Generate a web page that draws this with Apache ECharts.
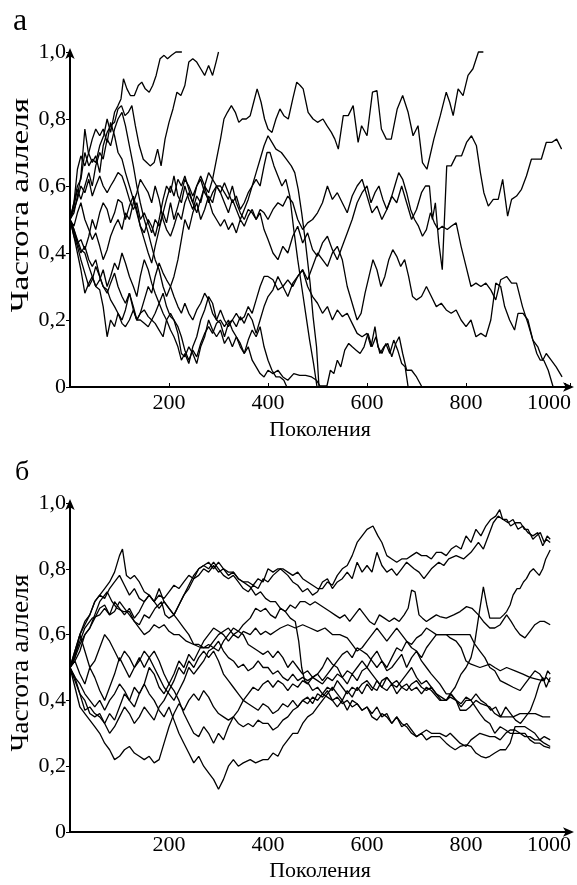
<!DOCTYPE html>
<html lang="ru">
<head>
  <meta charset="utf-8">
  <title>Частота аллеля</title>
  <script src="https://cdn.jsdelivr.net/npm/echarts@6/dist/echarts.min.js"></script>
  <style>
    * { margin: 0; padding: 0; }
    html, body { background: #fff; }
    #chart { width: 577px; height: 885px; }
  </style>
</head>
<body>
  <div id="chart"></div>
  <script>
    // tick labels
    var xTicks = [200, 400, 600, 800, 1000];
    var yTicks = ['0', '0,2', '0,4', '0,6', '0,8', '1,0'];
    var panelNames = ['а', 'б'];

    // panel а: [generation, allele frequency]
    var a1 = [[0,.5],[8,.55],[15,.6],[22,.62],[30,.7],[38,.66],[45,.68],[52,.67],[60,.72],[68,.75],[75,.8],[82,.76],[90,.82],[97,.84],[103,.86],[108,.92],[115,.89],[122,.87],[130,.87],[138,.9],[145,.91],[152,.89],[160,.88],[167,.9],[174,.93],[182,.98],[190,.99],[197,.98],[205,.99],[214,1],[226,1]];
    var a2 = [[0,.5],[8,.52],[15,.57],[22,.63],[30,.77],[37,.7],[45,.67],[52,.69],[60,.64],[67,.72],[75,.76],[82,.78],[90,.79],[97,.83],[104,.84],[111,.81],[118,.82],[125,.84],[132,.78],[140,.72],[148,.68],[155,.67],[162,.66],[170,.67],[177,.71],[184,.66],[192,.74],[200,.79],[208,.83],[216,.88],[224,.87],[232,.9],[240,.97],[248,.98],[256,.97],[264,.95],[272,.93],[280,.96],[288,.93],[295,.97],[300,1]];
    var a3 = [[0,.5],[8,.47],[15,.43],[22,.44],[30,.41],[38,.45],[45,.5],[52,.47],[60,.52],[67,.55],[75,.53],[82,.49],[90,.52],[97,.56],[105,.55],[112,.5],[120,.54],[128,.57],[135,.53],[142,.48],[150,.46],[158,.5],[165,.48],[172,.45],[180,.5],[188,.56],[195,.6],[203,.58],[210,.63],[218,.57],[225,.55],[232,.6],[240,.56],[248,.53],[256,.57],[264,.55],[272,.6],[280,.58],[288,.62],[296,.68],[304,.74],[311,.8],[318,.82],[326,.84],[334,.82],[341,.79],[348,.8],[356,.8],[364,.81],[371,.85],[378,.89],[386,.85],[393,.8],[400,.77],[408,.76],[416,.8],[424,.83],[432,.81],[441,.8],[450,.86],[458,.91],[465,.9],[471,.89],[481,.82],[491,.8],[500,.79],[511,.8],[519,.78],[528,.76],[535,.74],[542,.71],[552,.81],[562,.81],[572,.84],[582,.73],[589,.78],[600,.75],[611,.88],[620,.885],[629,.77],[639,.74],[649,.74],[661,.83],[672,.87],[683,.82],[693,.75],[703,.78],[712,.67],[721,.65],[735,.74],[748,.81],[760,.88],[767,.85],[774,.81],[784,.89],[794,.87],[804,.93],[814,.95],[825,1],[835,1]];
    var a4 = [[0,.5],[8,.53],[15,.56],[22,.6],[30,.58],[38,.62],[45,.57],[52,.6],[60,.63],[67,.6],[75,.58],[82,.6],[90,.62],[97,.64],[105,.63],[112,.6],[120,.56],[128,.53],[135,.55],[142,.5],[150,.52],[158,.49],[165,.46],[172,.5],[180,.48],[188,.52],[195,.49],[203,.55],[210,.5],[218,.54],[225,.58],[232,.62],[240,.6],[248,.57],[256,.6],[264,.63],[272,.6],[280,.55],[288,.58],[296,.6],[304,.6],[312,.58],[320,.56],[328,.6],[336,.55],[344,.52],[352,.5],[360,.53],[368,.52],[376,.5],[384,.53],[392,.52],[400,.5],[410,.53],[420,.55],[430,.54],[440,.57],[450,.55],[460,.5],[470,.47],[480,.49],[490,.5],[500,.52],[510,.55],[520,.6],[530,.56],[540,.58],[550,.55],[560,.52],[570,.57],[580,.6],[590,.62],[600,.57],[610,.52],[620,.54],[630,.5],[640,.53],[650,.57],[660,.55],[670,.6],[680,.55],[690,.5],[700,.53],[710,.58],[718,.6],[726,.6],[732,.5],[738,.55],[745,.43],[752,.35],[761,.66],[770,.66],[780,.69],[791,.69],[801,.73],[811,.75],[821,.72],[829,.64],[836,.58],[845,.54],[855,.56],[865,.56],[874,.62],[884,.51],[892,.56],[902,.57],[912,.59],[922,.63],[932,.68],[942,.68],[952,.68],[962,.73],[973,.73],[983,.74],[993,.71]];
    var a5 = [[0,.5],[8,.48],[15,.52],[22,.55],[30,.5],[38,.47],[45,.44],[52,.46],[60,.42],[67,.38],[75,.41],[82,.45],[90,.48],[97,.5],[105,.47],[112,.52],[120,.5],[128,.55],[135,.58],[142,.62],[150,.6],[158,.58],[165,.55],[172,.6],[180,.56],[188,.5],[195,.47],[203,.45],[210,.48],[218,.52],[225,.5],[232,.55],[240,.58],[248,.55],[256,.6],[264,.62],[272,.58],[280,.56],[288,.52],[296,.5],[304,.48],[312,.5],[320,.47],[328,.49],[336,.46],[344,.5],[352,.48],[360,.51],[368,.53],[376,.5],[384,.52],[392,.47],[400,.44],[410,.4],[420,.38],[430,.42],[440,.4],[450,.45],[460,.48],[470,.43],[480,.46],[490,.41],[500,.39],[510,.43],[520,.45],[530,.41],[540,.38],[550,.42],[560,.46],[570,.5],[580,.55],[590,.58],[600,.6],[608,.55],[616,.58],[624,.6],[632,.56],[640,.53],[648,.56],[656,.6],[664,.64],[672,.62],[680,.58],[688,.53],[696,.5],[704,.48],[712,.45],[720,.47],[728,.52],[736,.49],[744,.47],[752,.48],[762,.47],[770,.48],[780,.49],[790,.42],[800,.36],[810,.3],[820,.31],[830,.3],[840,.31],[850,.29],[860,.26],[870,.32],[882,.33],[892,.31],[902,.31],[914,.24],[925,.19],[935,.14],[943,.1],[950,.08],[957,.08],[966,.05],[976,0]];
    var a6 = [[0,.5],[8,.45],[15,.42],[22,.38],[30,.34],[38,.3],[45,.32],[52,.36],[60,.33],[67,.3],[75,.28],[82,.31],[90,.34],[97,.3],[105,.27],[112,.25],[120,.28],[128,.23],[135,.2],[142,.22],[150,.26],[158,.3],[165,.28],[172,.33],[180,.37],[188,.34],[195,.32],[203,.3],[210,.27],[218,.24],[225,.22],[232,.25],[240,.22],[248,.2],[256,.23],[264,.25],[272,.28],[280,.26],[288,.22],[296,.2],[304,.23],[312,.2],[320,.18],[328,.2],[336,.22],[344,.2],[352,.21],[360,.24],[368,.22],[376,.26],[384,.3],[392,.33],[400,.33],[410,.32],[420,.29],[430,.3],[440,.32],[450,.3],[460,.33],[470,.35],[480,.32],[490,.36],[500,.4],[510,.38],[520,.36],[530,.4],[540,.42],[550,.38],[560,.3],[570,.25],[580,.2],[588,.22],[596,.28],[604,.33],[612,.38],[620,.35],[628,.3],[636,.33],[644,.38],[652,.41],[660,.39],[668,.36],[676,.38],[684,.33],[692,.27],[700,.26],[710,.27],[720,.3],[730,.27],[740,.24],[750,.25],[760,.23],[770,.22],[780,.23],[790,.2],[800,.18],[810,.2],[820,.15],[830,.16],[840,.15],[850,.2],[860,.31],[870,.3],[878,.24],[888,.2],[898,.17],[905,.22],[915,.22],[925,.2],[935,.14],[945,.12],[955,.08],[962,.1],[972,.08],[982,.06],[994,.03]];
    var a7 = [[0,.5],[8,.55],[15,.65],[22,.69],[30,.66],[38,.7],[45,.74],[52,.77],[60,.75],[67,.77],[75,.73],[82,.79],[90,.75],[97,.7],[105,.68],[112,.64],[120,.6],[128,.56],[135,.52],[142,.48],[150,.44],[158,.4],[165,.37],[172,.42],[180,.47],[188,.52],[195,.56],[203,.6],[210,.57],[218,.62],[225,.6],[232,.63],[240,.59],[248,.55],[256,.52],[264,.56],[272,.6],[280,.64],[288,.62],[296,.6],[304,.58],[312,.61],[320,.58],[328,.55],[336,.57],[344,.53],[352,.55],[360,.58],[368,.6],[376,.64],[384,.68],[392,.72],[400,.75],[408,.73],[416,.71],[427,.7],[437,.68],[447,.66],[454,.64],[461,.59],[468,.52],[475,.44],[485,.31],[491,.21],[498,.12],[503,0]];
    var a8 = [[0,.5],[8,.54],[15,.59],[22,.56],[30,.6],[38,.64],[45,.6],[52,.66],[60,.7],[67,.68],[75,.74],[82,.72],[90,.77],[97,.8],[105,.82],[112,.78],[120,.72],[128,.66],[135,.6],[142,.55],[150,.5],[158,.46],[165,.42],[172,.38],[180,.35],[188,.3],[195,.27],[203,.3],[210,.33],[218,.38],[225,.44],[232,.5],[240,.47],[248,.52],[256,.55],[264,.5],[272,.53],[280,.57],[288,.55],[296,.6],[304,.58],[312,.55],[320,.52],[328,.56],[336,.53],[344,.5],[352,.53],[360,.56],[368,.6],[376,.62],[384,.6],[392,.66],[398,.7],[404,.7],[412,.66],[420,.63],[428,.6],[436,.62],[444,.57],[452,.47],[460,.38],[468,.3],[476,.22],[484,.14],[492,.07],[499,0]];
    var a9 = [[0,.5],[8,.45],[15,.4],[22,.35],[30,.28],[38,.31],[45,.33],[52,.3],[60,.29],[67,.24],[75,.15],[82,.2],[90,.18],[97,.22],[105,.2],[112,.23],[120,.28],[128,.24],[135,.2],[142,.2],[150,.19],[158,.18],[165,.2],[172,.19],[180,.17],[188,.15],[195,.2],[203,.22],[210,.2],[218,.16],[225,.1],[232,.09],[240,.12],[248,.1],[256,.07],[264,.12],[272,.15],[280,.2],[288,.17],[296,.15],[304,.17],[312,.13],[320,.15],[328,.12],[336,.15],[344,.13],[352,.1],[360,.14],[368,.17],[376,.15],[384,.18],[392,.12],[400,.08],[408,.05],[416,.03],[424,.03],[432,.02],[438,0]];
    var a10 = [[0,.5],[8,.46],[15,.43],[22,.4],[30,.42],[38,.38],[45,.36],[52,.38],[60,.33],[67,.3],[75,.29],[82,.26],[90,.24],[97,.22],[105,.19],[112,.18],[120,.2],[128,.23],[135,.2],[142,.22],[150,.23],[158,.21],[165,.2],[172,.22],[180,.25],[188,.28],[195,.24],[203,.21],[210,.2],[218,.18],[225,.15],[232,.11],[240,.08],[248,.11],[256,.09],[264,.13],[272,.16],[280,.18],[288,.16],[296,.19],[304,.2],[312,.18],[320,.2],[328,.17],[336,.15],[344,.12],[352,.1],[360,.12],[368,.08],[376,.06],[384,.04],[392,.03],[400,.05],[410,.04],[420,.05],[430,.03],[440,.02],[452,.04],[464,.035],[476,.035],[488,.03],[498,.02],[505,.003],[519,.003],[526,.05],[533,.04],[540,.08],[547,.06],[555,.11],[563,.13],[570,.12],[578,.11],[586,.1],[594,.12],[602,.16],[610,.12],[618,.15],[626,.1],[634,.12],[642,.13],[650,.09],[658,.13],[665,.15],[672,.1],[680,.05],[690,.05],[700,.03],[711,0]];
    var a11 = [[0,.5],[8,.47],[15,.44],[22,.41],[30,.4],[38,.36],[45,.33],[52,.3],[60,.32],[67,.35],[75,.3],[82,.33],[90,.37],[97,.35],[105,.4],[112,.37],[120,.33],[128,.3],[135,.27],[142,.33],[150,.38],[158,.35],[165,.31],[172,.28],[180,.25],[188,.22],[195,.2],[203,.17],[210,.15],[218,.12],[225,.08],[232,.1],[240,.07],[248,.12],[256,.15],[264,.2],[272,.23],[280,.27],[288,.25],[296,.2],[304,.19],[312,.15],[320,.19],[328,.2],[336,.18],[344,.21],[352,.19],[360,.22],[368,.2],[376,.16],[384,.2],[392,.24],[400,.27],[410,.29],[420,.33],[430,.3],[440,.27],[450,.31],[460,.33],[470,.35],[480,.3],[490,.27],[500,.25],[510,.22],[520,.24],[530,.2],[540,.23],[550,.21],[560,.22],[570,.19],[580,.16],[590,.15],[600,.16],[608,.12],[616,.18],[622,.12],[630,.1],[638,.13],[646,.1],[654,.14],[662,.11],[670,.07],[677,.06],[683,0]];

    // panel б
    var b1 = [[0,.5],[10,.55],[20,.6],[30,.63],[40,.66],[50,.7],[60,.72],[70,.71],[80,.74],[90,.76],[100,.78],[110,.75],[120,.72],[130,.74],[140,.71],[150,.7],[160,.72],[170,.7],[180,.72],[190,.71],[200,.73],[210,.75],[220,.74],[230,.76],[240,.78],[250,.77],[260,.8],[270,.81],[280,.82],[290,.8],[300,.82],[310,.8],[320,.79],[330,.79],[340,.77],[350,.76],[360,.76],[370,.75],[380,.77],[390,.76],[400,.8],[410,.79],[420,.8],[430,.8],[440,.79],[450,.78],[460,.79],[470,.77],[480,.76],[490,.75],[500,.74],[510,.74],[520,.76],[530,.75],[540,.78],[550,.8],[560,.81],[570,.84],[580,.88],[590,.9],[600,.92],[612,.93],[622,.9],[630,.88],[640,.84],[650,.83],[660,.82],[670,.83],[680,.83],[690,.84],[700,.85],[710,.84],[720,.84],[730,.83],[740,.85],[750,.85],[760,.84],[770,.86],[780,.87],[790,.86],[800,.9],[810,.88],[820,.92],[830,.9],[840,.93],[850,.95],[860,.96],[868,.98],[874,.95],[882,.95],[890,.93],[900,.94],[910,.94],[918,.92],[925,.92],[935,.89],[942,.9],[950,.91],[958,.88],[964,.9],[970,.89]];
    var b2 = [[0,.5],[10,.53],[20,.57],[30,.6],[40,.62],[50,.65],[60,.68],[70,.69],[80,.66],[90,.7],[100,.68],[110,.66],[120,.68],[130,.65],[140,.67],[150,.7],[160,.72],[170,.7],[180,.68],[190,.7],[200,.68],[210,.66],[220,.69],[230,.72],[240,.75],[250,.78],[260,.8],[270,.81],[280,.8],[290,.82],[300,.8],[310,.78],[320,.77],[330,.78],[340,.76],[350,.74],[360,.73],[370,.75],[380,.74],[390,.77],[400,.76],[410,.78],[425,.8],[440,.78],[450,.76],[460,.75],[470,.73],[480,.74],[490,.72],[500,.73],[510,.76],[520,.77],[530,.74],[540,.76],[550,.77],[560,.79],[570,.77],[580,.82],[590,.79],[600,.81],[610,.79],[620,.85],[630,.81],[640,.79],[650,.8],[660,.78],[670,.8],[680,.82],[695,.8],[705,.79],[715,.77],[730,.8],[745,.82],[755,.81],[765,.83],[780,.84],[795,.83],[810,.85],[825,.88],[835,.86],[845,.9],[855,.94],[865,.96],[875,.95],[885,.94],[895,.95],[905,.92],[915,.93],[925,.91],[935,.9],[945,.91],[955,.87],[962,.89],[970,.88]];
    var b3 = [[0,.5],[10,.52],[20,.55],[30,.6],[40,.62],[50,.66],[60,.7],[75,.73],[85,.7],[95,.68],[108,.67],[120,.67],[130,.64],[140,.63],[150,.66],[160,.65],[172,.68],[185,.7],[192,.66],[200,.65],[210,.66],[220,.69],[230,.72],[240,.74],[250,.77],[260,.78],[270,.8],[280,.79],[290,.81],[300,.79],[310,.8],[320,.78],[330,.79],[340,.77],[350,.76],[364,.745],[375,.72],[385,.73],[395,.71],[405,.7],[415,.7],[425,.68],[435,.67],[445,.65],[455,.64],[462,.58],[468,.5],[474,.46],[482,.45],[490,.43],[500,.44],[510,.42],[520,.44],[530,.43],[540,.46],[550,.44],[560,.42],[570,.44],[580,.43],[590,.45],[600,.46],[610,.44],[620,.43],[630,.46],[640,.47],[650,.45],[660,.46],[670,.44],[680,.43],[690,.45],[700,.46],[710,.44],[720,.43],[730,.44],[740,.42],[750,.41],[760,.4],[768,.42],[778,.44],[790,.48],[800,.5],[810,.53],[818,.58],[826,.66],[835,.745],[842,.69],[848,.65],[858,.65],[869,.65],[876,.66],[882,.67],[889,.69],[895,.72],[903,.74],[909,.74],[916,.76],[922,.77],[929,.79],[936,.8],[942,.79],[948,.78],[955,.8],[961,.83],[970,.857]];
    var b4 = [[0,.5],[10,.54],[20,.58],[30,.62],[45,.65],[60,.66],[70,.68],[80,.66],[90,.67],[100,.7],[110,.68],[120,.66],[130,.64],[140,.62],[150,.6],[160,.61],[170,.63],[180,.62],[190,.63],[200,.61],[210,.6],[220,.6],[235,.58],[250,.57],[265,.56],[280,.56],[290,.58],[300,.6],[310,.61],[320,.62],[330,.6],[340,.61],[350,.63],[364,.65],[375,.68],[385,.67],[395,.68],[405,.66],[415,.65],[425,.68],[435,.67],[445,.69],[455,.68],[465,.7],[475,.7],[485,.69],[495,.7],[505,.69],[515,.68],[525,.67],[535,.66],[545,.65],[555,.66],[565,.64],[575,.66],[585,.68],[595,.66],[605,.64],[615,.63],[625,.66],[635,.65],[645,.64],[655,.65],[665,.64],[675,.66],[683,.68],[690,.735],[697,.73],[705,.66],[712,.65],[720,.64],[730,.65],[740,.66],[747,.655],[760,.65],[775,.66],[788,.67],[801,.685],[812,.68],[825,.66],[835,.64],[848,.62],[858,.62],[869,.63],[882,.66],[891,.64],[899,.62],[909,.6],[919,.59],[929,.61],[939,.63],[949,.64],[958,.64],[970,.63]];
    var b5 = [[0,.5],[10,.47],[20,.42],[30,.37],[40,.38],[50,.36],[60,.35],[70,.33],[80,.36],[90,.34],[100,.38],[110,.42],[120,.4],[130,.44],[140,.42],[150,.45],[160,.5],[170,.48],[180,.44],[190,.42],[200,.45],[210,.48],[220,.52],[230,.5],[240,.54],[250,.52],[260,.55],[270,.58],[280,.6],[290,.62],[300,.61],[310,.6],[320,.58],[330,.6],[340,.59],[350,.61],[364,.6],[375,.62],[385,.6],[395,.61],[405,.6],[415,.61],[425,.62],[440,.63],[455,.62],[470,.63],[485,.62],[500,.61],[515,.62],[530,.6],[545,.6],[560,.59],[570,.57],[580,.55],[590,.56],[600,.58],[610,.6],[620,.62],[630,.6],[640,.58],[650,.6],[660,.62],[670,.6],[680,.58],[690,.57],[700,.59],[710,.6],[720,.62],[730,.61],[740,.6],[750,.6],[760,.6],[768,.59],[780,.58],[790,.56],[800,.52],[810,.51],[828,.5],[848,.51],[858,.5],[869,.49],[882,.5],[899,.49],[915,.48],[929,.47],[942,.465],[955,.46],[962,.47],[970,.456]];
    var b6 = [[0,.5],[10,.53],[20,.6],[30,.55],[40,.5],[50,.52],[60,.56],[70,.6],[80,.58],[90,.55],[100,.52],[110,.55],[120,.53],[130,.5],[140,.52],[150,.55],[160,.53],[170,.5],[180,.47],[190,.44],[200,.42],[210,.4],[220,.43],[230,.46],[240,.5],[250,.48],[260,.5],[270,.52],[280,.55],[290,.56],[300,.55],[310,.58],[320,.6],[330,.62],[340,.61],[350,.6],[360,.57],[370,.56],[380,.55],[390,.54],[400,.55],[410,.53],[420,.55],[430,.53],[440,.5],[450,.52],[460,.5],[470,.48],[480,.49],[490,.47],[500,.48],[510,.46],[520,.48],[530,.5],[540,.52],[550,.54],[560,.55],[570,.53],[580,.56],[590,.55],[600,.54],[610,.52],[620,.5],[630,.52],[640,.49],[650,.5],[660,.52],[670,.54],[680,.5],[690,.53],[700,.55],[710,.53],[720,.56],[730,.58],[740,.6],[750,.6],[768,.6],[788,.6],[808,.6],[818,.57],[828,.55],[838,.53],[848,.5],[858,.49],[869,.46],[882,.45],[895,.44],[909,.43],[919,.45],[929,.47],[939,.49],[949,.48],[958,.46],[965,.49],[970,.48]];
    var b7 = [[0,.5],[10,.55],[20,.6],[30,.64],[40,.66],[50,.7],[60,.72],[70,.74],[80,.76],[90,.79],[100,.84],[106,.86],[114,.78],[122,.77],[130,.78],[140,.76],[150,.73],[160,.72],[170,.7],[180,.74],[190,.7],[200,.68],[210,.66],[220,.64],[230,.62],[240,.6],[250,.57],[260,.57],[270,.56],[280,.57],[290,.56],[300,.58],[310,.55],[320,.53],[330,.52],[340,.5],[350,.51],[360,.49],[370,.5],[380,.52],[390,.5],[400,.5],[410,.48],[420,.49],[430,.47],[440,.46],[450,.48],[460,.46],[470,.47],[480,.46],[490,.47],[500,.48],[510,.5],[520,.53],[530,.51],[540,.5],[550,.47],[560,.45],[570,.48],[580,.46],[590,.49],[600,.5],[610,.48],[620,.46],[630,.44],[640,.47],[650,.45],[660,.44],[670,.46],[680,.48],[690,.5],[700,.47],[710,.45],[720,.46],[730,.44],[740,.42],[750,.4],[760,.4],[770,.42],[780,.4],[790,.39],[800,.41],[810,.4],[820,.42],[830,.4],[840,.39],[850,.37],[860,.38],[870,.35],[880,.38],[890,.36],[900,.34],[910,.33],[920,.35],[930,.37],[940,.41],[948,.45],[955,.47],[962,.44],[970,.47]];
    var b8 = [[0,.5],[10,.46],[20,.42],[30,.4],[40,.36],[50,.35],[60,.36],[70,.33],[80,.3],[90,.32],[100,.35],[110,.38],[120,.36],[130,.33],[140,.35],[150,.38],[160,.36],[170,.34],[180,.38],[190,.4],[200,.43],[210,.46],[220,.5],[230,.48],[240,.52],[250,.5],[260,.53],[270,.55],[280,.53],[290,.55],[300,.52],[310,.48],[320,.46],[330,.44],[340,.42],[350,.4],[360,.39],[370,.38],[380,.37],[390,.39],[400,.38],[410,.36],[420,.37],[430,.39],[440,.38],[450,.4],[460,.38],[470,.4],[480,.41],[490,.39],[500,.42],[510,.41],[520,.43],[530,.4],[540,.38],[550,.4],[560,.43],[570,.41],[580,.44],[590,.42],[600,.45],[610,.43],[620,.46],[630,.44],[640,.43],[650,.45],[660,.42],[670,.44],[680,.45],[690,.43],[700,.44],[710,.42],[720,.44],[730,.43],[747,.4],[760,.4],[768,.41],[780,.4],[788,.37],[800,.37],[808,.38],[820,.4],[830,.39],[848,.38],[858,.36],[869,.35],[880,.35],[895,.35],[909,.36],[925,.36],[940,.36],[955,.35],[970,.35]];
    var b9 = [[0,.5],[10,.47],[20,.45],[30,.42],[40,.4],[50,.38],[60,.4],[70,.37],[80,.4],[90,.42],[100,.45],[110,.43],[120,.4],[130,.38],[140,.42],[150,.45],[160,.42],[170,.4],[180,.37],[190,.35],[200,.38],[210,.34],[220,.3],[230,.27],[240,.24],[250,.21],[260,.23],[270,.2],[280,.18],[290,.16],[300,.13],[310,.16],[320,.2],[330,.22],[340,.2],[350,.21],[364,.22],[375,.21],[390,.22],[400,.22],[410,.24],[420,.23],[430,.26],[440,.28],[450,.3],[460,.3],[470,.33],[480,.35],[490,.36],[500,.38],[510,.4],[520,.42],[530,.44],[540,.42],[550,.4],[560,.37],[570,.4],[580,.39],[590,.37],[600,.38],[610,.35],[620,.34],[630,.36],[640,.35],[650,.33],[660,.35],[670,.33],[680,.32],[690,.3],[700,.29],[710,.3],[720,.31],[730,.3],[747,.3],[760,.29],[768,.3],[788,.27],[800,.26],[810,.28],[828,.3],[848,.29],[858,.29],[869,.28],[880,.3],[889,.31],[899,.31],[909,.3],[919,.3],[929,.28],[939,.27],[949,.27],[958,.26],[970,.255]];
    var b10 = [[0,.5],[10,.52],[20,.48],[30,.45],[40,.5],[50,.47],[60,.43],[70,.4],[80,.44],[90,.48],[100,.53],[110,.5],[120,.47],[130,.5],[140,.53],[150,.5],[160,.53],[170,.55],[180,.52],[190,.48],[200,.45],[210,.43],[220,.4],[230,.36],[240,.33],[250,.3],[260,.29],[270,.32],[280,.3],[290,.27],[300,.3],[310,.28],[320,.32],[330,.35],[340,.37],[350,.4],[360,.42],[370,.44],[380,.43],[390,.45],[400,.46],[410,.44],[420,.46],[430,.45],[440,.43],[450,.45],[460,.44],[470,.46],[480,.45],[490,.47],[500,.46],[510,.45],[520,.47],[530,.46],[540,.48],[550,.47],[560,.49],[570,.48],[580,.5],[590,.52],[600,.5],[610,.53],[620,.55],[630,.52],[640,.5],[650,.53],[660,.56],[670,.55],[680,.58],[690,.56],[700,.55],[710,.52],[720,.5],[730,.48],[747,.45],[760,.42],[768,.42],[780,.4],[790,.38],[800,.4],[810,.4],[828,.36],[838,.34],[848,.33],[858,.3],[869,.32],[880,.31],[889,.3],[899,.3],[909,.3],[919,.29],[929,.29],[939,.28],[949,.28],[958,.29],[970,.28]];
    var b11 = [[0,.5],[10,.44],[20,.38],[30,.36],[40,.34],[50,.32],[60,.3],[70,.27],[80,.25],[90,.22],[100,.23],[110,.25],[120,.26],[130,.24],[140,.23],[150,.22],[160,.23],[170,.21],[180,.22],[190,.27],[200,.32],[210,.36],[220,.39],[230,.37],[240,.4],[250,.42],[260,.4],[270,.43],[280,.41],[290,.38],[300,.36],[310,.35],[320,.34],[330,.35],[340,.33],[350,.32],[360,.33],[370,.32],[380,.34],[390,.33],[400,.33],[410,.31],[420,.32],[430,.34],[440,.35],[450,.37],[460,.38],[470,.4],[480,.39],[490,.41],[500,.4],[510,.42],[520,.41],[530,.4],[540,.41],[550,.39],[560,.4],[570,.38],[580,.39],[590,.37],[600,.38],[610,.36],[620,.38],[630,.35],[640,.36],[650,.33],[660,.35],[670,.32],[680,.33],[690,.31],[700,.29],[710,.3],[720,.28],[730,.29],[747,.29],[760,.27],[768,.26],[778,.25],[788,.26],[800,.265],[810,.26],[820,.24],[830,.23],[840,.225],[848,.23],[858,.24],[869,.25],[880,.25],[889,.27],[899,.32],[909,.32],[919,.32],[929,.31],[939,.3],[949,.28],[958,.27],[970,.26]];

    var panelA = [a1, a2, a3, a4, a5, a6, a7, a8, a9, a10, a11];
    var panelB = [b1, b2, b3, b4, b5, b6, b7, b8, b9, b10, b11];

    var serif = '"Liberation Serif", "Times New Roman", serif';
    var chart = echarts.init(document.getElementById('chart'), null, { renderer: 'canvas' });

    function xAxis(idx, labelMargin, nameGap, showTicks) {
      return {
        type: 'value', gridIndex: idx, min: 0, max: 1010, interval: 200,
        name: 'Поколения', nameLocation: 'middle', nameGap: nameGap,
        nameTextStyle: { fontFamily: serif, fontSize: 22, color: '#000' },
        axisLine: { show: true, symbol: ['none', 'arrow'], symbolSize: [7, 11], symbolOffset: [0, 4],
          lineStyle: { color: '#000', width: 2 } },
        axisTick: { show: showTicks, inside: true, length: 4, lineStyle: { color: '#000', width: 1 } },
        splitLine: { show: false },
        axisLabel: {
          margin: labelMargin, fontFamily: serif, fontSize: 22, color: '#000',
          formatter: function (v) {
            if (xTicks.indexOf(v) < 0) return '';
            return v === 1000 ? '{e|' + v + '}' : String(v);
          },
          rich: { e: { fontFamily: serif, fontSize: 22, color: '#000', padding: [0, 32, 0, 0] } }
        }
      };
    }

    function yAxis(idx) {
      return {
        type: 'value', gridIndex: idx, min: 0, max: 1, interval: 0.2,
        axisLine: { show: true, symbol: ['none', 'arrow'], symbolSize: [7, 11], symbolOffset: [0, 4],
          lineStyle: { color: '#000', width: 2 } },
        axisTick: { show: true, length: 4, lineStyle: { color: '#000', width: 1 } },
        splitLine: { show: false },
        axisLabel: {
          margin: 4, fontFamily: serif, fontSize: 22, color: '#000',
          formatter: function (v) { return yTicks[Math.round(v * 5)]; }
        }
      };
    }

    var series = [];
    [panelA, panelB].forEach(function (panel, p) {
      panel.forEach(function (line) {
        series.push({
          type: 'line', xAxisIndex: p, yAxisIndex: p, data: line,
          showSymbol: false, silent: true, clip: false,
          lineStyle: { color: '#000', width: 1.3 }
        });
      });
    });

    var option = {
      backgroundColor: '#fff',
      animation: false,
      grid: [
        { left: 70, top: 52, width: 500, height: 335 },
        { left: 70, top: 503, width: 500, height: 329 }
      ],
      xAxis: [xAxis(0, 5, 32, true), xAxis(1, 2, 28, false)],
      yAxis: [yAxis(0), yAxis(1)],
      graphic: [
        { type: 'text', x: 20, y: 22, style: { text: panelNames[0], font: '32px ' + serif, fill: '#000', align: 'center', verticalAlign: 'middle' } },
        { type: 'text', x: 22, y: 473, style: { text: panelNames[1], font: '28px ' + serif, fill: '#000', align: 'center', verticalAlign: 'middle' } },
        { type: 'text', x: 21, y: 205, rotation: Math.PI / 2, scaleX: 1.33,
          style: { text: 'Частота аллеля', font: '25px ' + serif, fill: '#000', align: 'center', verticalAlign: 'middle' } },
        { type: 'text', x: 21, y: 663, rotation: Math.PI / 2, scaleX: 1.1,
          style: { text: 'Частота аллеля', font: '25px ' + serif, fill: '#000', align: 'center', verticalAlign: 'middle' } }
      ],
      series: series
    };

    chart.setOption(option);
    window.addEventListener('resize', chart.resize);
  </script>
</body>
</html>
